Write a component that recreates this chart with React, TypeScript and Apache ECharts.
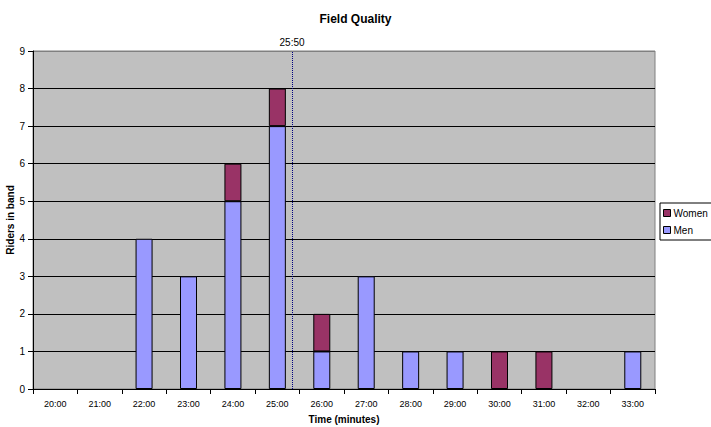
import React, { useEffect, useRef } from "react";
import * as echarts from "echarts";

const categories = ["20:00","21:00","22:00","23:00","24:00","25:00","26:00","27:00","28:00","29:00","30:00","31:00","32:00","33:00"];
const menValues = [0,0,4,3,5,7,1,3,1,1,0,0,0,1];
const womenValues = [0,0,0,0,1,1,1,0,0,0,1,1,0,0];
const markerLabel = "25:50";
const markerBin = "25:00";
const markerMinutes = 50;

export default function App() {
  const ref = useRef<HTMLDivElement>(null);
  useEffect(() => {
    if (!ref.current) return;
    const chart = echarts.init(ref.current, null, { renderer: "svg" });
    const markerPos = categories.indexOf(markerBin) - 0.5 + markerMinutes / 60;
    const font = "Liberation Sans, Arial, sans-serif";
    const gridColors = ["#000","#000","#000","#000","#000","#000","#000","#000","#000","#808080"];
    const hideZero = (arr: number[]) => arr.map((v) => (v === 0 ? "-" : v));
    chart.setOption({
      animation: false,
      backgroundColor: "#fff",
      textStyle: { fontFamily: font },
      title: {
        text: "Field Quality",
        left: "center",
        top: 8,
        textStyle: { fontSize: 12, fontWeight: "bold", color: "#000", fontFamily: font },
      },
      legend: {
        orient: "vertical",
        left: 660,
        top: 203,
        data: ["Women", "Men"],
        itemWidth: 7,
        itemHeight: 7,
        itemGap: 7,
        padding: [5, 4, 5, 3],
        borderColor: "#000",
        borderWidth: 1,
        backgroundColor: "#fff",
        icon: "rect",
        itemStyle: { borderColor: "#000", borderWidth: 1 },
        textStyle: { fontSize: 10, color: "#000", fontFamily: font, padding: [0, 0, 0, -2] },
      },
      grid: {
        left: 33,
        right: 56,
        top: 51,
        bottom: 38,
        show: true,
        backgroundColor: "#C0C0C0",
        borderColor: "#808080",
        borderWidth: 1,
        containLabel: false,
        outerBoundsMode: "none",
      },
      xAxis: [
        {
          type: "category",
          data: categories,
          name: "Time (minutes)",
          nameLocation: "middle",
          nameGap: 25,
          nameMoveOverlap: false,
          nameTextStyle: { fontSize: 10, fontWeight: "bold", color: "#000", fontFamily: font, verticalAlign: "top" },
          axisLine: { lineStyle: { color: "#000", width: 1 } },
          axisTick: { show: true, length: 5, lineStyle: { color: "#000" } },
          axisLabel: { fontSize: 9, color: "#000", margin: 10, fontFamily: font },
          splitLine: { show: false },
        },
        {
          type: "value",
          min: -0.5,
          max: categories.length - 0.5,
          show: false,
        },
      ],
      yAxis: {
        type: "value",
        min: 0,
        max: 9,
        interval: 1,
        name: "Riders in band",
        nameLocation: "middle",
        nameGap: 18,
        nameMoveOverlap: false,
        nameTextStyle: { fontSize: 10, fontWeight: "bold", color: "#000", fontFamily: font },
        axisLine: { show: true, onZero: false, lineStyle: { color: "#000", width: 1 } },
        axisTick: { show: true, length: 5, lineStyle: { color: "#000" } },
        axisLabel: { fontSize: 10, color: "#000", margin: 8, fontFamily: font },
        splitLine: { show: true, lineStyle: { color: gridColors, width: 1 } },
      },
      series: [
        {
          name: "Men",
          type: "bar",
          stack: "total",
          data: hideZero(menValues),
          barWidth: 17,
          itemStyle: { color: "#9999FF", borderColor: "#000", borderWidth: 1 },
        },
        {
          name: "Women",
          type: "bar",
          stack: "total",
          data: hideZero(womenValues),
          barWidth: 17,
          itemStyle: { color: "#993366", borderColor: "#000", borderWidth: 1 },
        },
        {
          name: "marker",
          type: "scatter",
          xAxisIndex: 1,
          data: [],
          markLine: {
            silent: true,
            symbol: ["none", "none"],
            lineStyle: { color: "#000080", type: "dotted", width: 1 },
            label: {
              show: true,
              position: "end",
              formatter: markerLabel,
              fontSize: 10,
              color: "#000",
              fontFamily: font,
              distance: 4,
            },
            data: [{ xAxis: markerPos }],
          },
        },
      ],
    });
    return () => chart.dispose();
  }, []);
  return <div ref={ref} style={{ width: 711, height: 427, position: "absolute", left: 0, top: 0 }} />;
}
